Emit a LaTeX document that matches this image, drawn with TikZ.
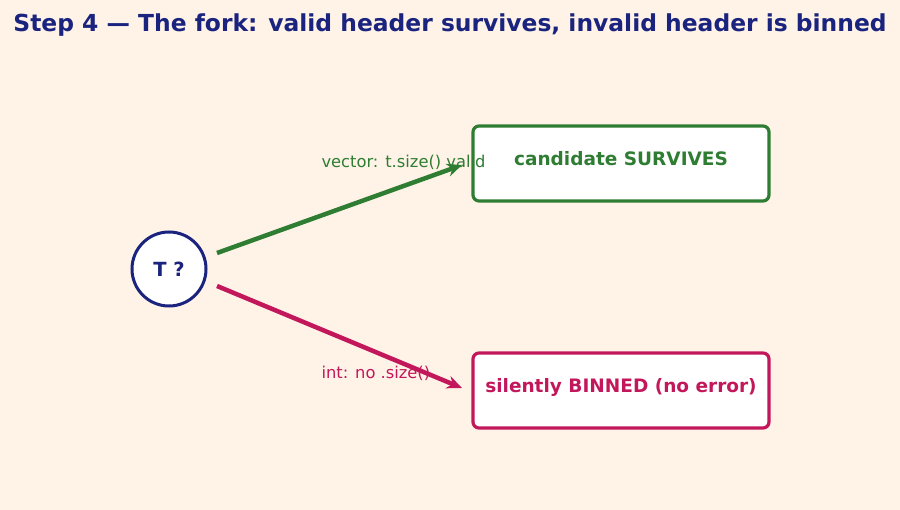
\documentclass[tikz,border=0pt]{standalone}
\usepackage{fontspec}
\setmainfont{DejaVu Sans}
\usepackage{xcolor}
\usetikzlibrary{arrows.meta, positioning}
\definecolor{bgcream}{HTML}{FFF3E8}
\definecolor{navy}{HTML}{1A237E}
\definecolor{okgreen}{HTML}{2E7D32}
\definecolor{binred}{HTML}{C2185B}
\begin{document}
\begin{tikzpicture}[x=1pt, y=-1pt,
    outcome/.style={rectangle, rounded corners=6pt, draw, line width=3.2pt, fill=white,
        minimum width=296pt, minimum height=75pt, font=\fontsize{18.5}{22}\selectfont\bfseries},
    branch/.style={line width=4.5pt, -{Stealth[length=15pt, width=13pt]}},
    note/.style={anchor=west, font=\fontsize{16.3}{19}\selectfont}
]
    \useasboundingbox[fill=bgcream] (0,0) rectangle (900,510);
    \node[text=navy, font=\fontsize{23.4}{28}\selectfont\bfseries] (title) at (450,25) {Step 4 — The fork: valid header survives, invalid header is binned};

    \node[circle, draw=navy, line width=3pt, fill=white, minimum size=74pt, text=navy,
        font=\fontsize{19.5}{22}\selectfont\bfseries] (T) at (169,269) {T ?};

    \node[outcome, draw=okgreen, text=okgreen] (ok) at (621,163.5) {\raisebox{10pt}{candidate SURVIVES}};
    \node[outcome, draw=binred, text=binred] (bin) at (621,390.5) {\raisebox{10pt}{silently BINNED (no error)}};

    \coordinate (okin) at (462,165);
    \coordinate (binin) at (462,388);
    \coordinate (okout) at (217,253);
    \coordinate (binout) at (217,286);

    \draw[branch, okgreen] (okout) -- (okin);
    \draw[branch, binred] (binout) -- (binin);

    \node[note, text=okgreen] (oklabel) at (318,162) {vector: t.size() valid};
    \node[note, text=binred] (binlabel) at (318,373) {int: no .size()};
\end{tikzpicture}
\end{document}
